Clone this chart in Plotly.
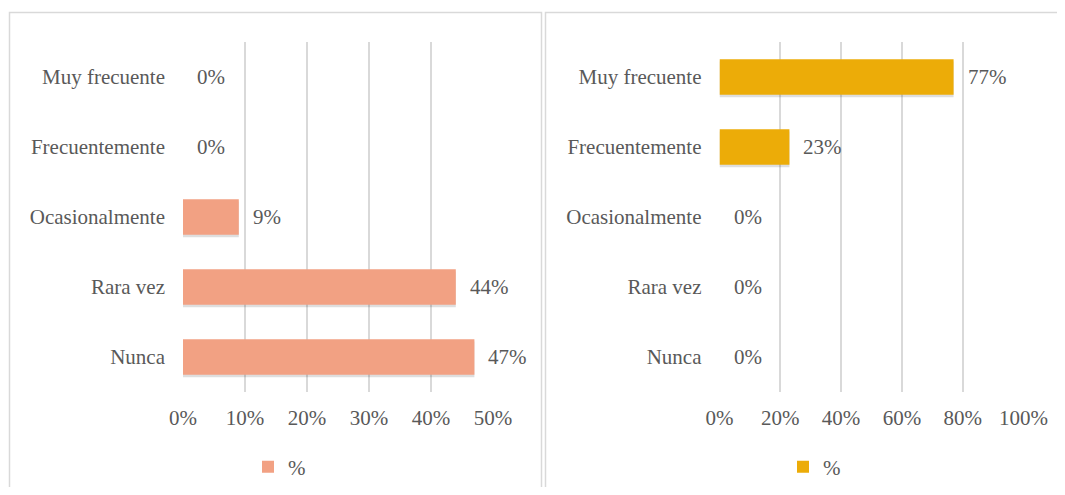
import plotly.graph_objects as go

categories = ["Nunca", "Rara vez", "Ocasionalmente", "Frecuentemente", "Muy frecuente"]
left_values = [47, 44, 9, 0, 0]
right_values = [0, 0, 0, 23, 77]
left_ticks = [0, 10, 20, 30, 40, 50]
right_ticks = [0, 20, 40, 60, 80, 100]
series_name = "%"

# page body has an 8px default margin; size the figure to fit inside it
PAGE_W, PAGE_H = 1065, 495
OFF = 8
W, H = PAGE_W - 2 * OFF, PAGE_H - 2 * OFF
FONT = "Liberation Serif, Times New Roman, serif"
FS = 21
TXT = "#595959"
GRID = "#D9D9D9"
LEFT_COLOR = "#F2A183"
RIGHT_COLOR = "#ECAC08"


def px_x(p):
    return (p - OFF) / W


def px_y(p):
    return 1 - (p - OFF) / H


fig = go.Figure()

# subtle shadows under the bars
for vals, xa, ya in [(left_values, "x", "y"), (right_values, "x2", "y2")]:
    fig.add_trace(go.Bar(
        y=categories, x=vals, orientation="h", width=0.51, offset=-0.255 - 0.035,
        marker=dict(color="rgba(0,0,0,0.13)", line=dict(width=0)),
        xaxis=xa, yaxis=ya, showlegend=False, hoverinfo="skip",
    ))

fig.add_trace(go.Bar(
    y=categories, x=left_values, orientation="h", width=0.51, offset=-0.255,
    name=series_name, marker=dict(color=LEFT_COLOR, line=dict(width=0)),
    xaxis="x", yaxis="y", legend="legend",
))
fig.add_trace(go.Bar(
    y=categories, x=right_values, orientation="h", width=0.51, offset=-0.255,
    name=series_name, marker=dict(color=RIGHT_COLOR, line=dict(width=0)),
    xaxis="x2", yaxis="y2", legend="legend2",
))

annotations = []
for vals, xa, ya in [(left_values, "x", "y"), (right_values, "x2", "y2")]:
    for c, v in zip(categories, vals):
        annotations.append(dict(
            x=v, y=c, xref=xa, yref=ya, text=f"{v}%", showarrow=False,
            xanchor="left", yanchor="middle", xshift=12,
            font=dict(family=FONT, size=FS, color=TXT),
        ))

shapes = [
    dict(type="rect", xref="paper", yref="paper",
         x0=px_x(9.5), x1=px_x(541.5), y0=px_y(520), y1=px_y(12.5),
         line=dict(color=GRID, width=1.5), fillcolor="rgba(0,0,0,0)", layer="below"),
    dict(type="rect", xref="paper", yref="paper",
         x0=px_x(545.5), x1=px_x(1090), y0=px_y(520), y1=px_y(12.5),
         line=dict(color=GRID, width=1.5), fillcolor="rgba(0,0,0,0)", layer="below"),
]

ydom = [px_y(392), px_y(42)]
xaxis_common = dict(
    showgrid=True, gridcolor=GRID, gridwidth=1.5, zeroline=False,
    showline=False, ticks="", tickfont=dict(family=FONT, size=FS, color=TXT),
    ticklabelstandoff=11, fixedrange=True, automargin=False,
)
yaxis_common = dict(
    type="category", categoryorder="array", categoryarray=categories,
    range=[-0.5, 4.5], showgrid=False, zeroline=False, showline=False, ticks="",
    tickfont=dict(family=FONT, size=FS, color=TXT), ticklabelstandoff=17,
    fixedrange=True, automargin=False,
)
legend_common = dict(
    y=px_y(467), xanchor="left", yanchor="middle", orientation="h",
    font=dict(family=FONT, size=FS, color=TXT), bgcolor="rgba(0,0,0,0)",
    itemwidth=30,
)

fig.update_layout(
    width=W, height=H, margin=dict(l=0, r=0, t=0, b=0, autoexpand=False),
    paper_bgcolor="white", plot_bgcolor="white",
    barmode="overlay",
    font=dict(family=FONT, size=FS, color=TXT),
    xaxis=dict(domain=[px_x(183), px_x(493)], range=[0, 50],
               tickvals=left_ticks, ticktext=[f"{t}%" for t in left_ticks],
               anchor="y", **xaxis_common),
    yaxis=dict(domain=ydom, anchor="x", **yaxis_common),
    xaxis2=dict(domain=[px_x(719.5), px_x(1023.5)], range=[0, 100],
                tickvals=right_ticks, ticktext=[f"{t}%" for t in right_ticks],
                anchor="y2", **xaxis_common),
    yaxis2=dict(domain=ydom, anchor="x2", **yaxis_common),
    legend=dict(x=px_x(248), **legend_common),
    legend2=dict(x=px_x(783), **legend_common),
    annotations=annotations, shapes=shapes,
)

fig.write_html("out.html", config={"displayModeBar": False})
